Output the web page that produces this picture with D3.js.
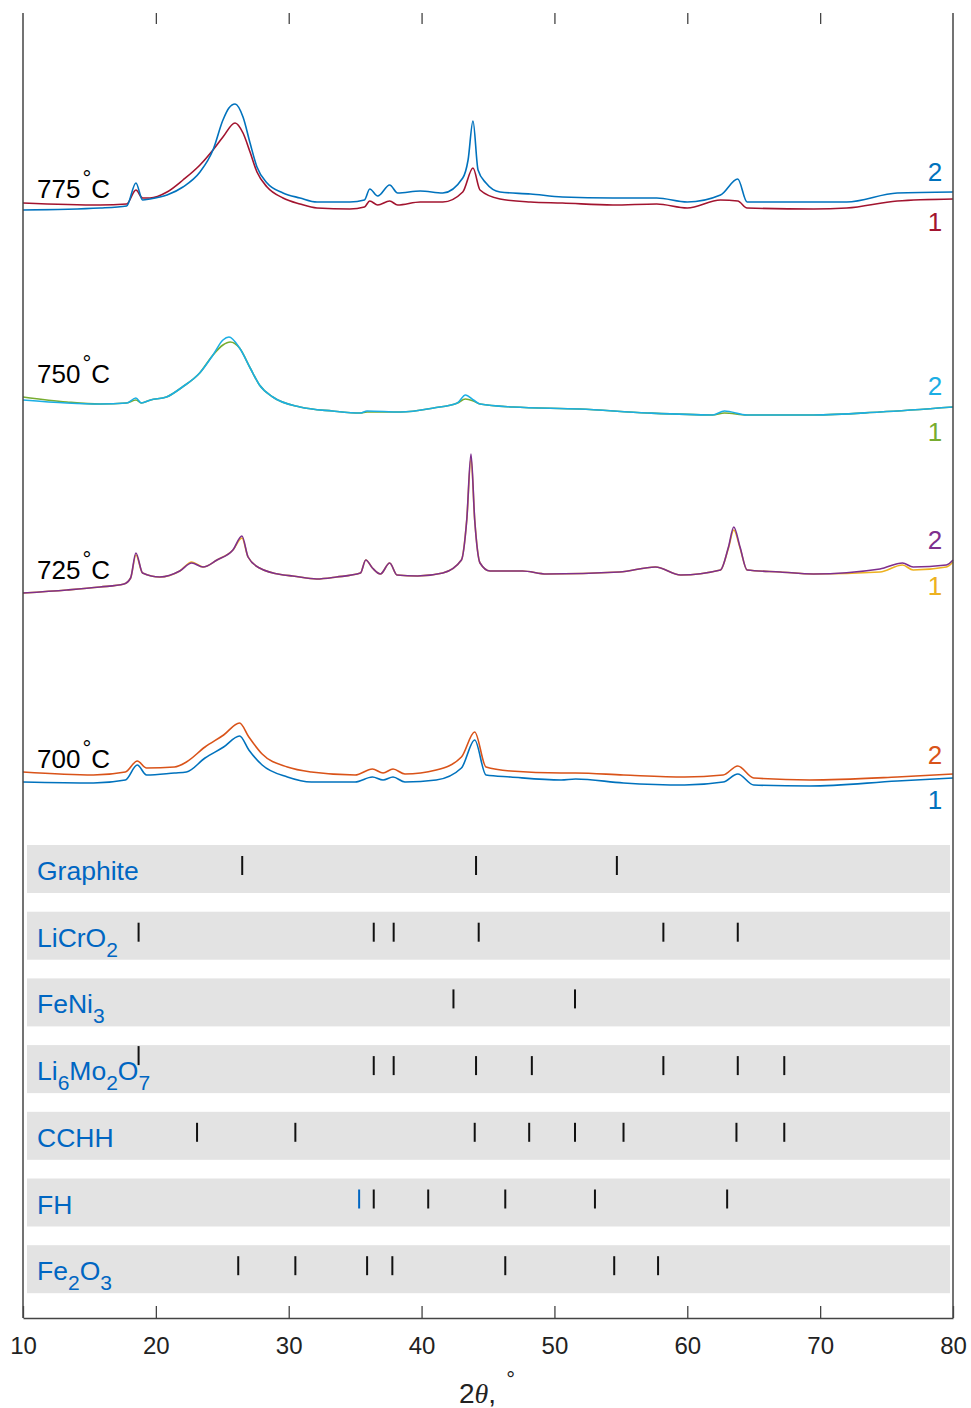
<!DOCTYPE html>
<html>
<head>
<meta charset="utf-8">
<script src="https://cdn.jsdelivr.net/npm/d3@7"></script>
<style>
  html, body { margin: 0; padding: 0; background: #fff; }
  svg { display: block; }
  text { font-family: "Liberation Sans", Arial, Helvetica, sans-serif; }
</style>
</head>
<body>
<svg id="chart" width="971" height="1408"></svg>
<script>
// ---------- DATA ----------
const xTicks = [10, 20, 30, 40, 50, 60, 70, 80];

// stacked XRD patterns: [2theta, intensity (a.u., offset included)]
const s775_1 = [[10.0,1115],[15.8,1113],[17.8,1114],[18.5,1128],[19.0,1120],[19.56,1120],[20.84,1126],[22.04,1138],[23.32,1153],[24.3,1168],[25.05,1181],[25.96,1195],[26.56,1185],[27.09,1166],[27.61,1146],[28.37,1131],[29.57,1120],[30.85,1114],[32.13,1110],[34.6,1109],[35.7,1111],[36.1,1117],[36.7,1113],[37.6,1117],[38.2,1113],[39.9,1116],[41.6,1116],[43.1,1126],[43.87,1150],[44.4,1128],[45.9,1119],[48.2,1116],[50.6,1115],[54.4,1113],[57.7,1114],[60.0,1110],[62.5,1118],[63.8,1117],[64.5,1110],[69.5,1109],[72.0,1110],[75.8,1117],[80.0,1119]];
const s775_2 = [[10.0,1108],[15.8,1110],[17.8,1112],[18.5,1135],[19.0,1118],[19.56,1119],[20.84,1123],[22.04,1131],[23.32,1146],[24.3,1168],[25.05,1198],[25.5,1210],[25.96,1214],[26.56,1201],[27.09,1175],[27.61,1151],[28.37,1135],[29.57,1125],[30.85,1120],[32.13,1116],[34.6,1116],[35.7,1118],[36.1,1129],[36.7,1122],[37.6,1133],[38.2,1125],[39.9,1127],[41.6,1125],[43.1,1140],[43.5,1158],[43.87,1197],[44.25,1148],[44.85,1135],[45.9,1126],[48.2,1124],[50.6,1121],[54.4,1120],[57.7,1120],[60.0,1116],[62.5,1123],[63.8,1139],[64.5,1116],[69.5,1116],[72.0,1116],[75.8,1125],[80.0,1126]];

const s750_1 = [[10.0,921],[13.3,916],[15.8,914],[17.8,915],[18.5,918],[18.9,915],[19.6,918],[20.8,921],[22.0,931],[23.3,945],[24.3,963],[25.05,973],[25.6,976],[26.3,970],[27.1,950],[27.8,933],[28.8,921],[30.85,911],[33.3,907],[35.4,905],[35.9,906],[38.4,906],[40.9,910],[42.7,915],[43.3,919],[43.9,917],[44.4,914],[46.9,911],[51.9,909],[57.0,905],[61.9,903],[62.8,905],[64.5,903],[69.5,903],[74.5,906],[80.0,911]];
const s750_2 = [[10.0,918],[13.3,915],[15.8,914],[17.8,915],[18.5,920],[18.9,915],[19.6,918],[20.8,921],[22.0,931],[23.3,945],[24.3,963],[25.05,978],[25.5,981],[26.3,970],[27.1,950],[27.8,933],[28.8,921],[30.85,911],[33.3,907],[35.4,905],[35.9,907],[38.4,906],[40.9,910],[42.7,915],[43.3,923],[43.9,918],[44.4,914],[46.9,911],[51.9,909],[57.0,905],[61.9,903],[62.8,907],[64.5,903],[69.5,903],[74.5,906],[80.0,911]];

const s725_1 = [[10.0,725],[13.3,728],[15.8,731],[17.6,734],[18.1,740],[18.5,763],[19.0,745],[20.3,741],[21.8,747],[22.7,756],[23.55,751],[24.6,758],[25.8,768],[26.48,780],[26.94,761],[27.8,750],[29.6,743],[30.3,742],[32.1,739],[33.6,741],[35.4,745],[35.8,758],[36.3,750],[36.9,744],[37.6,755],[38.15,743],[39.7,742],[41.6,745],[43.0,758],[43.4,798],[43.72,860],[44.0,798],[44.4,755],[45.15,747],[47.6,747],[49.4,744],[54.9,746],[57.6,751],[59.5,743],[62.5,748],[63.1,770],[63.5,788],[63.97,770],[64.5,748],[67.0,746],[69.5,744],[74.5,746],[76.2,753],[77.0,748],[79.5,751],[80.0,756]];
const s725_2 = [[10.0,725],[13.3,728],[15.8,731],[17.6,734],[18.1,740],[18.5,765],[19.0,745],[20.3,741],[21.8,747],[22.7,755],[23.55,751],[24.6,758],[25.8,768],[26.48,782],[26.94,761],[27.8,750],[29.6,743],[30.3,742],[32.1,739],[33.6,741],[35.4,745],[35.8,758],[36.3,750],[36.9,744],[37.6,755],[38.15,743],[39.7,742],[41.6,745],[43.0,758],[43.4,798],[43.72,864],[44.0,798],[44.4,755],[45.15,747],[47.6,747],[49.4,744],[54.9,746],[57.6,751],[59.5,743],[62.5,748],[63.1,771],[63.5,791],[63.97,771],[64.5,748],[67.0,746],[69.5,744],[74.5,749],[76.2,755],[77.0,751],[79.5,753],[80.0,758]];

const s700_1 = [[10.0,536],[15.3,535],[17.7,538],[18.6,553],[19.3,543],[21.4,545],[22.3,546],[23.7,560],[25.1,571],[26.3,582],[27.0,568],[28.0,553],[29.9,541],[31.7,536],[35.0,536],[36.3,541],[37.1,538],[37.85,541],[38.75,536],[41.1,538],[43.0,550],[44.0,578],[44.85,543],[46.7,541],[50.5,538],[51.6,539],[55.2,535],[59.8,533],[62.7,536],[63.8,544],[65.0,533],[69.2,532],[75.8,537],[80.0,540]];
const s700_2 = [[10.0,546],[15.3,543],[17.7,546],[18.6,557],[19.3,550],[21.4,551],[22.3,556],[23.7,571],[25.1,583],[26.3,595],[27.0,581],[28.0,564],[29.9,551],[31.7,546],[35.0,543],[36.3,549],[37.1,545],[37.85,549],[38.75,544],[41.1,548],[43.0,561],[44.0,586],[44.85,551],[46.7,547],[50.5,545],[51.6,545],[55.2,543],[59.8,541],[62.7,543],[63.8,552],[65.0,540],[69.2,538],[75.8,541],[80.0,544]];

const temps = ["775", "750", "725", "700"];

// reference phases (stick patterns)
const phaseNames = ["Graphite", "LiCrO2", "FeNi3", "Li6Mo2O7", "CCHH", "FH", "Fe2O3"];
const graphiteRefs = [26.5, 44.1, 54.7];
const licro2Refs   = [18.7, 36.4, 37.9, 44.3, 58.2, 63.8];
const feni3Refs    = [42.4, 51.55];
const li6mo2o7Refs = [18.7, 36.4, 37.9, 44.1, 48.3, 58.2, 63.8, 67.3];
const cchhRefs     = [23.1, 30.5, 44.0, 48.1, 51.55, 55.2, 63.7, 67.3];
const fhRefs       = [35.3, 36.4, 40.5, 46.3, 53.05, 63.0];
const fe2o3Refs    = [26.2, 30.5, 35.9, 37.8, 46.3, 54.5, 57.8];

// ---------- CHART ----------
const svg = d3.select("#chart");
const L = 23, R = 953, T = 13, B = 1318;
const x = d3.scaleLinear().domain([10, 80]).range([L, R]);
const y = d3.scaleLinear().domain([0, 1305]).range([B, T]);

const groups = [
  { temp: temps[0], s1: s775_1, s2: s775_2, c1: "#A2142F", c2: "#0072BD" },
  { temp: temps[1], s1: s750_1, s2: s750_2, c1: "#77AC30", c2: "#1BAEE4" },
  { temp: temps[2], s1: s725_1, s2: s725_2, c1: "#EDB120", c2: "#7E2F8E" },
  { temp: temps[3], s1: s700_1, s2: s700_2, c1: "#0072BD", c2: "#D95319" }
];
const tempBaseline = [198, 383, 579, 768];
const numY = [[222, 172], [432, 386], [586, 540], [800, 755]];

const line = d3.line().x(d => x(d[0])).y(d => y(d[1])).curve(d3.curveMonotoneX);

groups.forEach((g, i) => {
  const order = (i === 3) ? [["s2", "c2"], ["s1", "c1"]] : [["s1", "c1"], ["s2", "c2"]];
  order.forEach(([s, c]) => {
    svg.append("path").datum(g[s]).attr("d", line)
      .attr("fill", "none").attr("stroke", g[c]).attr("stroke-width", 1.6)
      .attr("stroke-linejoin", "round");
  });
  // temperature label
  const t = svg.append("text").attr("x", 37).attr("y", tempBaseline[i])
    .attr("font-size", 26).attr("fill", "#000");
  t.append("tspan").text(g.temp);
  t.append("tspan").attr("dy", -12).attr("dx", 2).attr("font-size", 22).text("°");
  t.append("tspan").attr("dy", 12).attr("dx", 0).text("C");
  // series numbers
  svg.append("text").attr("x", 935).attr("y", numY[i][0] + 9).attr("text-anchor", "middle")
    .attr("font-size", 26).attr("fill", g.c1).text("1");
  svg.append("text").attr("x", 935).attr("y", numY[i][1] + 9).attr("text-anchor", "middle")
    .attr("font-size", 26).attr("fill", g.c2).text("2");
});

// phase bands
const phaseRefs = [graphiteRefs, licro2Refs, feni3Refs, li6mo2o7Refs, cchhRefs, fhRefs, fe2o3Refs];
const labelParts = {
  "Graphite": [["Graphite", false]],
  "LiCrO2": [["LiCrO", false], ["2", true]],
  "FeNi3": [["FeNi", false], ["3", true]],
  "Li6Mo2O7": [["Li", false], ["6", true], ["Mo", false], ["2", true], ["O", false], ["7", true]],
  "CCHH": [["CCHH", false]],
  "FH": [["FH", false]],
  "Fe2O3": [["Fe", false], ["2", true], ["O", false], ["3", true]]
};
const bandTop0 = 845, bandStep = 66.7, bandH = 48;
phaseNames.forEach((name, i) => {
  const top = bandTop0 + i * bandStep;
  svg.append("rect").attr("x", 27).attr("y", top).attr("width", 923).attr("height", bandH)
    .attr("fill", "#e3e3e3");
  const t = svg.append("text").attr("x", 37).attr("y", top + 35)
    .attr("font-size", 26.5).attr("fill", "#0066c2");
  let sub = false;
  labelParts[name].forEach(([s, isSub]) => {
    const ts = t.append("tspan").text(s);
    if (isSub && !sub) { ts.attr("dy", 10).attr("font-size", 21); sub = true; }
    else if (isSub && sub) { ts.attr("font-size", 21); }
    else if (!isSub && sub) { ts.attr("dy", -10); sub = false; }
  });
  phaseRefs[i].forEach((v, j) => {
    let y0 = top + 11, y1 = top + 30, col = "#111";
    if (name === "Li6Mo2O7" && j === 0) { y0 = top + 1; y1 = top + 20; }
    if (name === "FH" && j === 0) { col = "#0066c2"; }
    svg.append("line").attr("x1", x(v)).attr("x2", x(v)).attr("y1", y0).attr("y2", y1)
      .attr("stroke", col).attr("stroke-width", 2);
  });
});

// axes
const axisCol = "#444";
const bottom = svg.append("g").attr("transform", `translate(0,${B})`)
  .call(d3.axisBottom(x).tickValues(xTicks).tickSizeInner(-12).tickSizeOuter(0).tickPadding(19)
    .tickFormat(d3.format("d")));
bottom.select(".domain").attr("stroke", axisCol).attr("stroke-width", 1.5);
bottom.selectAll(".tick line").attr("stroke", axisCol).attr("stroke-width", 1.3);
bottom.selectAll(".tick text").attr("font-size", 24).attr("fill", "#222")
  .attr("font-family", "'Liberation Sans', Arial, sans-serif");

const topAx = svg.append("g").attr("transform", `translate(0,${T})`)
  .call(d3.axisTop(x).tickValues(xTicks.slice(1, -1)).tickSizeInner(-11).tickSizeOuter(0).tickFormat(""));
topAx.select(".domain").remove();
topAx.selectAll(".tick line").attr("stroke", axisCol).attr("stroke-width", 1.3);

svg.append("line").attr("x1", L).attr("x2", L).attr("y1", T).attr("y2", B)
  .attr("stroke", axisCol).attr("stroke-width", 1.5);
svg.append("line").attr("x1", R).attr("x2", R).attr("y1", T).attr("y2", B)
  .attr("stroke", axisCol).attr("stroke-width", 1.5);

// axis title
const xt = svg.append("text").attr("x", 459).attr("y", 1403).attr("font-size", 28).attr("fill", "#222");
xt.append("tspan").text("2");
xt.append("tspan").attr("font-family", "'Liberation Serif', 'Times New Roman', serif")
  .attr("font-style", "italic").text("θ");
xt.append("tspan").text(",");
xt.append("tspan").attr("dx", 10).attr("dy", -16).attr("font-size", 22).text("°");
</script>
</body>
</html>
